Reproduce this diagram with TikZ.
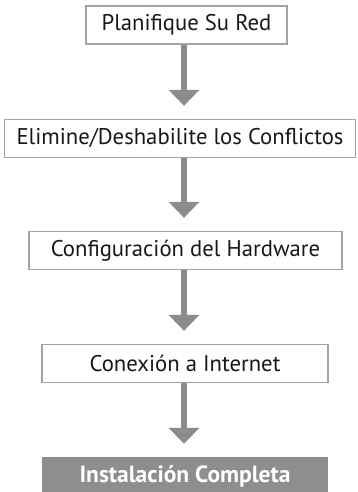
\documentclass[tikz,border=0pt]{standalone}
\usepackage{fontspec}
\setmainfont{PT Sans}
\usetikzlibrary{arrows.meta}
\definecolor{boxline}{HTML}{A3A3A3}
\definecolor{arrowgray}{HTML}{8C8C8C}
\definecolor{txt}{HTML}{1A1718}
\definecolor{endfill}{HTML}{8E8E8E}
\begin{document}
\begin{tikzpicture}[x=1pt,y=-1pt,
  stepbox/.style={draw=boxline, line width=1.3pt, fill=white, text=txt, inner sep=0pt,
    minimum height=38pt, font=\fontsize{22.7}{26}\selectfont},
  endbox/.style={fill=endfill, text=white, inner sep=0pt, minimum height=38pt,
    font=\fontsize{23.5}{27}\selectfont\bfseries},
  flow/.style={draw=arrowgray, line width=6pt,
    -{Triangle[width=30pt,length=16pt]}, shorten >=13pt}]
\useasboundingbox (0,0) rectangle (357,492);
\coordinate (ax) at (184,0);
\node[stepbox, minimum width=201pt] (p1) at (186.5,25) {Planifique Su Red};
\node[stepbox, minimum width=351pt] (p2) at (180,138.5) {Elimine/Deshabilite los Conflictos};
\node[stepbox, minimum width=313pt] (p3) at (185.5,250.5) {Configuración del Hardware};
\node[stepbox, minimum width=286pt] (p4) at (185,363.5) {Conexión a Internet};
\node[endbox, minimum width=286pt] (p5) at (185,476) {Instalación Completa};
\draw[flow] (p1.south -| ax) -- (p2.north -| ax);
\draw[flow] (p2.south -| ax) -- (p3.north -| ax);
\draw[flow] (p3.south -| ax) -- (p4.north -| ax);
\draw[flow] (p4.south -| ax) -- (p5.north -| ax);
\end{tikzpicture}
\end{document}
